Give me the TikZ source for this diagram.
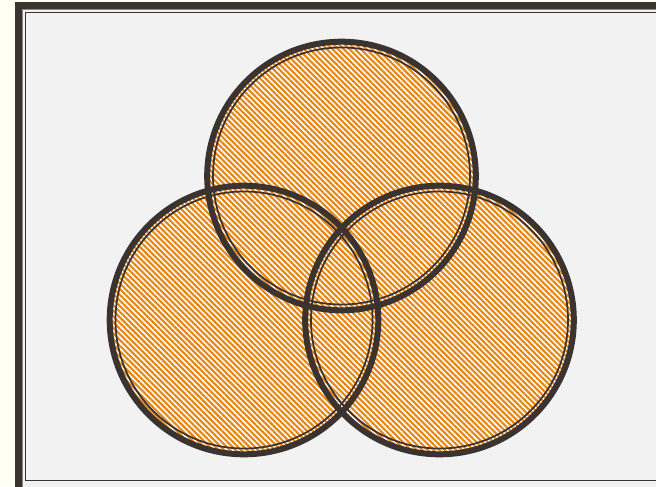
\documentclass[tikz,border=0pt]{standalone}
\usetikzlibrary{patterns.meta}
\definecolor{cream}{RGB}{255,255,242}
\definecolor{framefill}{RGB}{242,242,242}
\definecolor{darkline}{RGB}{58,51,48}
\definecolor{midgray}{RGB}{140,136,134}
\definecolor{hatch}{RGB}{234,133,16}
\tikzset{
  setfill/.style={fill=white},
  sethatch/.style={pattern={Lines[angle=-45,distance=3pt,line width=1.6pt]},pattern color=hatch},
  outerring/.style={draw=darkline,line width=4.5pt},
  innerring/.style={draw=darkline,line width=1.3pt},
}
\begin{document}
\begin{tikzpicture}[x=0.75pt,y=-0.75pt]
\useasboundingbox (0,0) rectangle (656,486);
\fill[cream] (0,0) rectangle (656,486);
% frame
\fill[framefill] (18,5) rectangle (680,495);
\draw[darkline,line width=5pt] (18.5,5.5) rectangle (680,495);
\draw[midgray,line width=0.8pt] (22.5,9.5) rectangle (676,491);
\draw[darkline,line width=1pt] (25.3,12.3) rectangle (672,480.3);
\coordinate (top) at (341.5,176);
\coordinate (lft) at (244,320);
\coordinate (rgt) at (439.5,320);
% fills (union, filled once)
\fill[setfill] (top) circle[radius=136] (lft) circle[radius=136] (rgt) circle[radius=136];
\fill[sethatch,nonzero rule] (top) circle[radius=136] (lft) circle[radius=136] (rgt) circle[radius=136];
% borders
\foreach \c in {top,lft,rgt}{
  \draw[outerring] (\c) circle[radius=134.3];
  \draw[innerring] (\c) circle[radius=128.5];
}
\end{tikzpicture}
\end{document}
